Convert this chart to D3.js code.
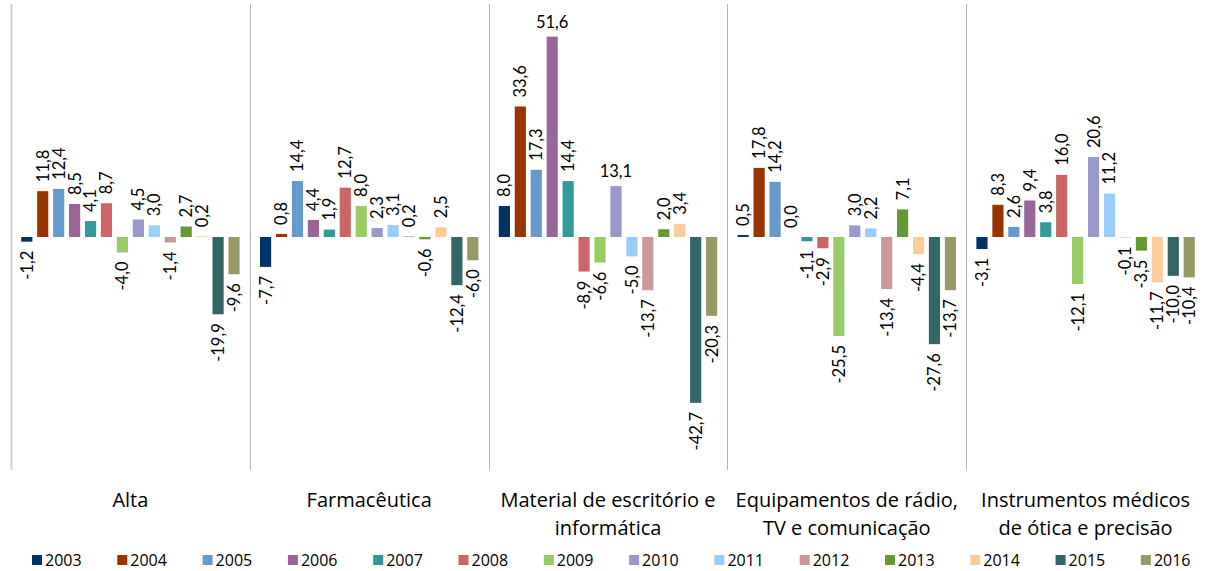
<!DOCTYPE html>
<html>
<head>
<meta charset="utf-8">
<script src="https://cdn.jsdelivr.net/npm/d3@7"></script>
<style>
  html, body { margin: 0; padding: 0; background: #fff; }
  svg { display: block; }
  text { font-family: Lato, "Open Sans", "Noto Sans", sans-serif; fill: #000; }
  text.sector, text.key { font-family: "Open Sans", "Noto Sans", sans-serif; }
</style>
</head>
<body>
<svg id="chart" width="1205" height="571"></svg>
<script>
// Sectors (category labels, split into lines as printed)
const sectors = [
  ["Alta"],
  ["Farmacêutica"],
  ["Material de escritório e", "informática"],
  ["Equipamentos de rádio,", "TV e comunicação"],
  ["Instrumentos médicos", "de ótica e precisão"]
];

const years = ["2003","2004","2005","2006","2007","2008","2009","2010","2011","2012","2013","2014","2015","2016"];

const yearColors = ["#003366","#993300","#6699CC","#996699","#339999","#CC6666","#99CC66",
                    "#9999CC","#99CCFF","#CC9999","#669933","#FFCC99","#336666","#999966"];

// Annual growth (%) by sector, one value per year 2003–2016
const alta          = [-1.2, 11.8, 12.4,  8.5,  4.1,  8.7,  -4.0,  4.5,  3.0,  -1.4,  2.7,  0.2, -19.9,  -9.6];
const farmaceutica  = [-7.7,  0.8, 14.4,  4.4,  1.9, 12.7,   8.0,  2.3,  3.1,   0.2, -0.6,  2.5, -12.4,  -6.0];
const material      = [ 8.0, 33.6, 17.3, 51.6, 14.4, -8.9,  -6.6, 13.1, -5.0, -13.7,  2.0,  3.4, -42.7, -20.3];
const equipamentos  = [ 0.5, 17.8, 14.2,  0.0, -1.1, -2.9, -25.5,  3.0,  2.2, -13.4,  7.1, -4.4, -27.6, -13.7];
const instrumentos  = [-3.1,  8.3,  2.6,  9.4,  3.8, 16.0, -12.1, 20.6, 11.2,  -0.1, -3.5, -11.7, -10.0, -10.4];

const seriesBySector = [alta, farmaceutica, material, equipamentos, instrumentos];

// Labels printed horizontally instead of rotated: [sector index, year]
const horizontalLabels = [[2, "2006"], [2, "2010"]];

const yDomain = [-60, 60];

const svg = d3.select("#chart");
const plot = { left: 11, right: 1205, top: 4, bottom: 470 };

const x0 = d3.scaleBand()
  .domain(d3.range(sectors.length))
  .range([plot.left, plot.right])
  .padding(0);

const x1 = d3.scaleBand()
  .domain(years)
  .range([0, x0.bandwidth()])
  .paddingInner(0.3)
  .paddingOuter(0.64);

const y = d3.scaleLinear().domain(yDomain).range([plot.bottom, plot.top]);

const color = d3.scaleOrdinal().domain(years).range(yearColors);

// Separators between sectors
const separators = d3.range(sectors.length + 1).map(i => i < sectors.length ? x0(i) : plot.right - 0.5);
svg.append("g")
  .selectAll("line")
  .data(separators)
  .join("line")
  .attr("x1", d => Math.round(d) + 0.5)
  .attr("x2", d => Math.round(d) + 0.5)
  .attr("y1", plot.top)
  .attr("y2", plot.bottom)
  .attr("stroke", (d, i) => i === 0 ? "#d0d0d0" : "#b4b4b4")
  .attr("stroke-width", (d, i) => i === 0 ? 2 : 1);

const rows = [];
seriesBySector.forEach((vals, si) => {
  vals.forEach((v, yi) => rows.push({ sector: si, year: years[yi], value: v }));
});

const groups = svg.append("g").selectAll("g")
  .data(d3.range(sectors.length))
  .join("g")
  .attr("transform", i => `translate(${x0(i)},0)`);

// Bars
groups.selectAll("rect")
  .data(i => rows.filter(r => r.sector === i))
  .join("rect")
  .attr("x", d => x1(d.year))
  .attr("width", x1.bandwidth())
  .attr("y", d => y(Math.max(0, d.value)))
  .attr("height", d => Math.abs(y(d.value) - y(0)))
  .attr("fill", d => color(d.year));

// Value labels
const fmt = v => d3.format(".1f")(v).replace(".", ",").replace("−", "-");
const isHorizontal = d => horizontalLabels.some(h => h[0] === d.sector && h[1] === d.year);
const gap = 9;

groups.selectAll("text.val")
  .data(i => rows.filter(r => r.sector === i))
  .join("text")
  .attr("class", "val")
  .attr("font-size", 16.5)
  .text(d => fmt(d.value))
  .each(function (d) {
    const cx = x1(d.year) + x1.bandwidth() / 2;
    const sel = d3.select(this);
    if (isHorizontal(d)) {
      sel.attr("x", cx)
        .attr("y", y(d.value) - gap)
        .attr("text-anchor", "middle");
    } else if (d.value >= 0) {
      const yy = y(d.value) - gap;
      sel.attr("transform", `translate(${cx},${yy}) rotate(-90)`)
        .attr("dy", "0.36em")
        .attr("text-anchor", "start");
    } else {
      const yy = y(d.value) + gap;
      sel.attr("transform", `translate(${cx},${yy}) rotate(-90)`)
        .attr("dy", "0.36em")
        .attr("text-anchor", "end");
    }
  });

// Sector names under the panels
svg.append("g").selectAll("text")
  .data(sectors)
  .join("text")
  .attr("class", "sector")
  .attr("x", (d, i) => x0(i) + x0.bandwidth() / 2)
  .attr("y", 507)
  .attr("text-anchor", "middle")
  .attr("font-size", 20)
  .selectAll("tspan")
  .data(d => d)
  .join("tspan")
  .attr("x", function () { return d3.select(this.parentNode).attr("x"); })
  .attr("dy", (d, i) => i === 0 ? 0 : 28)
  .text(d => d);

// Legend
const legend = svg.append("g").selectAll("g")
  .data(years)
  .join("g")
  .attr("transform", (d, i) => `translate(${32 + i * 85.3},0)`);

legend.append("rect")
  .attr("x", 0)
  .attr("y", 555)
  .attr("width", 10)
  .attr("height", 10)
  .attr("fill", d => color(d));

legend.append("text")
  .attr("class", "key")
  .attr("x", 13)
  .attr("y", 566)
  .attr("font-size", 16)
  .text(d => d);
</script>
</body>
</html>
